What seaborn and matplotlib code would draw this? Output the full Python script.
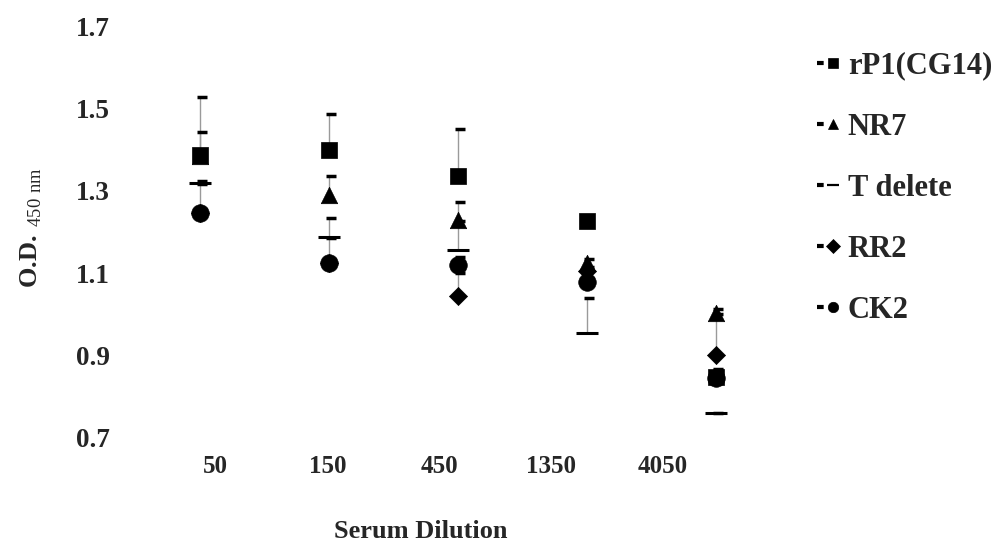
import matplotlib
matplotlib.use('Agg')
import matplotlib.pyplot as plt
from matplotlib.lines import Line2D
from matplotlib.legend_handler import HandlerTuple
import seaborn as sns
import numpy as np
import pandas as pd

# serum dilutions and OD450 readings (plus-only error bars)
dilutions = ['50', '150', '450', '1350', '4050']
series = ['rP1(CG14)', 'NR7', 'T delete', 'RR2', 'CK2']
rp1 = [1.387, 1.399, 1.335, 1.227, 0.848]
rp1_err = [0.14, 0.087, 0.115, 0.012, 0.02]
nr7 = [1.385, 1.290, 1.229, 1.125, 1.003]
nr7_err = [0.058, 0.046, 0.044, 0.01, 0.01]
tdel = [1.318, 1.188, 1.156, 0.955, 0.761]
tdel_err = [0.005, 0.045, 0.07, 0.085, 0.0]
rr2 = [1.245, 1.125, 1.045, 1.105, 0.901]
rr2_err = [0.01, 0.01, 0.055, 0.01, 0.1]
ck2 = [1.246, 1.125, 1.12, 1.078, 0.845]
ck2_err = [0.07, 0.06, 0.02, 0.01, 0.02]

sns.set_style('white')
plt.rcParams['font.family'] = ['Liberation Serif', 'DejaVu Serif']
plt.rcParams['mathtext.fontset'] = 'custom'
plt.rcParams['mathtext.rm'] = 'Liberation Serif'

values = [rp1, nr7, tdel, rr2, ck2]
errs = [rp1_err, nr7_err, tdel_err, rr2_err, ck2_err]
rows = []
for name, v, e in zip(series, values, errs):
    for i, d in enumerate(dilutions):
        rows.append({'dilution': d, 'pos': i, 'series': name, 'od': v[i], 'err': e[i]})
df = pd.DataFrame(rows)

markers = {'rP1(CG14)': 's', 'NR7': '^', 'T delete': '_', 'RR2': 'D', 'CK2': 'o'}
sizes = {'rP1(CG14)': 140, 'NR7': 140, 'T delete': 240, 'RR2': 85, 'CK2': 160}

fig = plt.figure(figsize=(10.03, 5.44), dpi=100)
ax = fig.add_axes([0.132, 0.195, 0.646, 0.757])

# error bars: plus direction only, with a short black cap
for name in series:
    sub = df[df['series'] == name]
    ax.errorbar(sub['pos'], sub['od'], yerr=[np.zeros(len(sub)), sub['err']],
                fmt='none', ecolor='#9a9a9a', elinewidth=1, capsize=0, zorder=1)
    ax.scatter(sub['pos'] + 0.02, sub['od'] + sub['err'], marker='_', s=55,
                color='black', linewidths=2.5, zorder=2)

# first series ends up on top
for name in series[::-1]:
    sub = df[df['series'] == name]
    sns.scatterplot(data=sub, x='pos', y='od', marker=markers[name], s=sizes[name],
                    color='black', edgecolor='black',
                    linewidth=2.2 if name == 'T delete' else 0.5,
                    ax=ax, legend=False, zorder=3)

ax.set_xlim(-0.52, 4.5)
ax.set_ylim(0.7, 1.7)
ax.set_yticks([0.7, 0.9, 1.1, 1.3, 1.5, 1.7])
ax.set_yticklabels(['0.7', '0.9', '1.1', '1.3', '1.5', '1.7'])
# the category labels sit on a narrower spacing than the markers
ax.set_xticks(0.124 + 0.866 * np.arange(len(dilutions)))
ax.set_xticklabels(dilutions)
for sp in ax.spines.values():
    sp.set_visible(False)
ax.tick_params(axis='both', length=0)
ax.tick_params(axis='x', pad=12, labelsize=18)
ax.tick_params(axis='y', pad=16, labelsize=19.5)
for lab in ax.get_xticklabels() + ax.get_yticklabels():
    lab.set_fontweight('bold')

ax.set_xlabel('Serum Dilution', fontsize=19, fontweight='bold')
ax.xaxis.set_label_coords(0.445, -0.2)
ax.set_ylabel(r'O.D.$\ _{\mathrm{450\ nm}}$', fontsize=19, fontweight='bold')
ax.yaxis.set_label_coords(-0.137, 0.51)

handles = []
for name in series:
    dash = Line2D([0], [0], color='black', lw=3, dashes=(1.6, 10))
    mk = Line2D([0], [0], color='black', lw=0, marker=markers[name],
                markersize=7.5 if name != 'T delete' else 9,
                markeredgewidth=1.6 if name == 'T delete' else 0.5)
    handles.append((dash, mk))
ax.legend(handles, series, handler_map={tuple: HandlerTuple(ndivide=None, pad=0.1)},
          loc='upper left', bbox_to_anchor=(1.014, 1.005), frameon=False,
          handlelength=0.66, handletextpad=0.35, labelspacing=1.05, borderpad=0.4,
          prop={'family': 'Liberation Serif', 'weight': 'bold', 'size': 22})

fig.savefig('out.png', dpi=100)
